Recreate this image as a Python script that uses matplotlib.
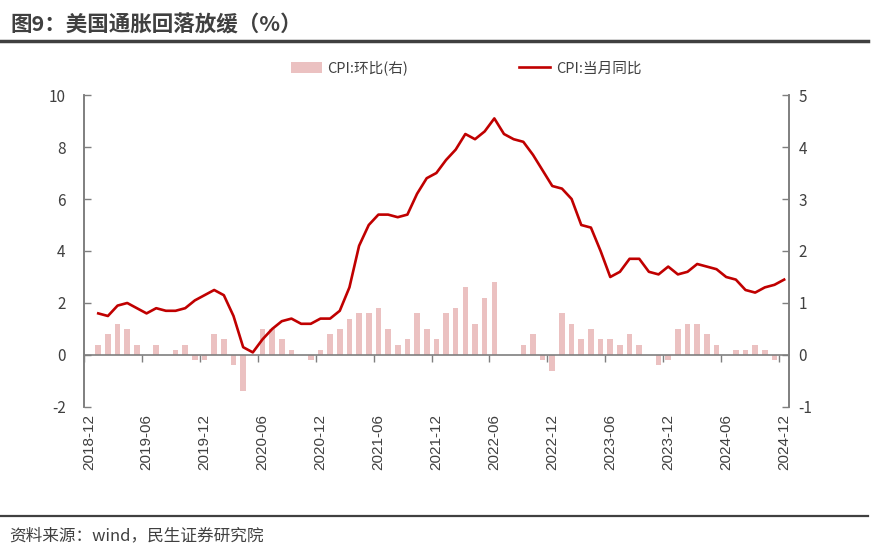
import numpy as np
import matplotlib
matplotlib.use("Agg")
import matplotlib.pyplot as plt
import matplotlib.transforms as mtrans
from matplotlib.lines import Line2D
from matplotlib.patches import Patch

plt.rcParams['font.family'] = ['Noto Sans CJK SC', 'DejaVu Sans']
plt.rcParams['axes.unicode_minus'] = False

# monthly data, 2019-01 .. 2024-12
yoy = [1.6, 1.5, 1.9, 2.0, 1.8, 1.6, 1.8, 1.7, 1.7, 1.8, 2.1, 2.3,
       2.5, 2.3, 1.5, 0.3, 0.1, 0.6, 1.0, 1.3, 1.4, 1.2, 1.2, 1.4,
       1.4, 1.7, 2.6, 4.2, 5.0, 5.4, 5.4, 5.3, 5.4, 6.2, 6.8, 7.0,
       7.5, 7.9, 8.5, 8.3, 8.6, 9.1, 8.5, 8.3, 8.2, 7.7, 7.1, 6.5,
       6.4, 6.0, 5.0, 4.9, 4.0, 3.0, 3.2, 3.7, 3.7, 3.2, 3.1, 3.4,
       3.1, 3.2, 3.5, 3.4, 3.3, 3.0, 2.9, 2.5, 2.4, 2.6, 2.7, 2.9]
mom = [0.2, 0.4, 0.6, 0.5, 0.2, 0.0, 0.2, 0.0, 0.1, 0.2, -0.1, -0.1,
       0.4, 0.3, -0.2, -0.7, 0.0, 0.5, 0.5, 0.3, 0.1, 0.0, -0.1, 0.1,
       0.4, 0.5, 0.7, 0.8, 0.8, 0.9, 0.5, 0.2, 0.3, 0.8, 0.5, 0.3,
       0.8, 0.9, 1.3, 0.6, 1.1, 1.4, 0.0, 0.0, 0.2, 0.4, -0.1, -0.3,
       0.8, 0.6, 0.3, 0.5, 0.3, 0.3, 0.2, 0.4, 0.2, 0.0, -0.2, -0.1,
       0.5, 0.6, 0.6, 0.4, 0.2, 0.0, 0.1, 0.1, 0.2, 0.1, -0.1, 0.0]
tick_labels = ['2018-12', '2019-06', '2019-12', '2020-06', '2020-12', '2021-06',
               '2021-12', '2022-06', '2022-12', '2023-06', '2023-12', '2024-06',
               '2024-12']

line_color = '#c00000'
bar_color = '#ebc1c1'
text_color = '#404040'
axis_color = '#7f7f7f'

fig = plt.figure(figsize=(8.78, 5.55), dpi=100)
ax = fig.add_axes([0.0954, 0.2667, 0.8032, 0.5621])
ax2 = ax.twinx()

# month slots: 2018-12 occupies [0, 1], each point sits in the middle of its slot
x = np.arange(len(yoy)) + 1.5
ax2.bar(x, mom, width=0.58, color=bar_color, zorder=2)
ax.plot(x, yoy, color=line_color, lw=1.9, zorder=3)

ax.set_zorder(ax2.get_zorder() + 1)
ax.patch.set_visible(False)

ax.set_xlim(0, 73)
ax.set_ylim(-2, 10)
ax2.set_ylim(-1, 5)
ax.set_yticks(np.arange(-2, 11, 2))
ax2.set_yticks(np.arange(-1, 6, 1))

ax.set_xticks(np.arange(0, 73, 6))
ax.set_xticklabels(tick_labels, rotation=90, fontsize=11, color=text_color,
                   family='Liberation Sans')
ax.tick_params(axis='x', length=0, pad=5)
shift = mtrans.ScaledTranslation(0.05, 0, fig.dpi_scale_trans)
for lab in ax.get_xticklabels():
    lab.set_transform(lab.get_transform() + shift)

# axis line along zero with the tick marks
zax = ax.secondary_xaxis(0, transform=ax.transData)
zax.set_xticks(np.arange(0, 73, 6))
zax.set_xticklabels([])
zax.tick_params(axis='x', direction='out', length=5, width=1, color=axis_color)
zax.spines['bottom'].set_color(axis_color)
zax.spines['bottom'].set_linewidth(1.2)

for a in (ax, ax2):
    a.spines['top'].set_visible(False)
    a.spines['bottom'].set_visible(False)
    a.spines['left'].set_color(axis_color)
    a.spines['right'].set_color(axis_color)
    a.spines['left'].set_linewidth(1.2)
    a.spines['right'].set_linewidth(1.2)

ax.tick_params(axis='y', direction='in', length=5, width=1, color=axis_color,
               labelsize=11, labelcolor=text_color, pad=13)
ax2.tick_params(axis='y', direction='in', length=5, width=1, color=axis_color,
                labelsize=11, labelcolor=text_color, pad=7)

handles = [Patch(facecolor=bar_color, edgecolor='none'),
           Line2D([0], [0], color=line_color, lw=1.9)]
fig.legend(handles, ['CPI:环比(右)', 'CPI:当月同比'], loc='center',
           bbox_to_anchor=(0.531, 0.8775), ncol=2, frameon=False, fontsize=10.5,
           handlelength=2.1, handleheight=0.8, columnspacing=7.6, handletextpad=0.4,
           labelcolor=text_color)

fig.text(0.012, 0.955, '图9：美国通胀回落放缓（%）', fontsize=15.5, fontweight='bold',
         color=text_color, va='center', ha='left')
fig.add_artist(Line2D([0, 0.989], [0.926, 0.926], color=text_color, lw=2.5,
                      transform=fig.transFigure))
fig.add_artist(Line2D([0, 0.989], [0.07, 0.07], color=text_color, lw=1.6,
                      transform=fig.transFigure))
fig.text(0.01, 0.034, '资料来源：wind，民生证券研究院', fontsize=12,
         color=text_color, va='center', ha='left')

fig.savefig('out.png', dpi=100)
